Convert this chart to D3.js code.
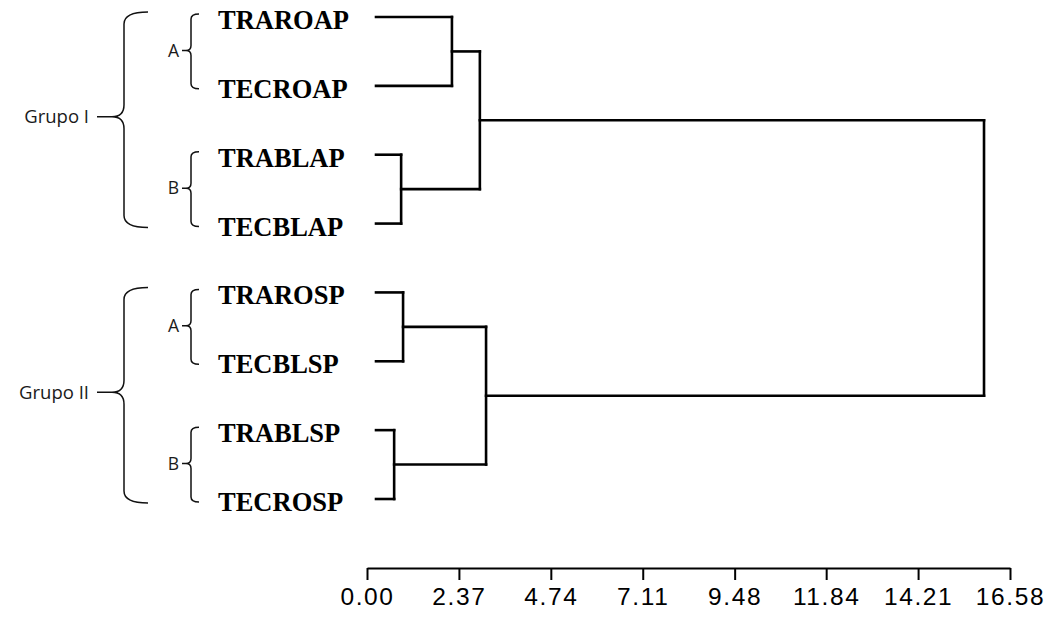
<!DOCTYPE html>
<html>
<head>
<meta charset="utf-8">
<script src="https://cdn.jsdelivr.net/npm/d3@7"></script>
<style>
  html, body { margin: 0; padding: 0; background: #fff; }
  svg { display: block; }
</style>
</head>
<body>
<svg id="chart" width="1056" height="618"></svg>
<script>
// ---- data ----
const leaves = ["TRAROAP", "TECROAP", "TRABLAP", "TECBLAP", "TRAROSP", "TECBLSP", "TRABLSP", "TECROSP"];
const clusterNames = ["G1A", "G1B", "G2A", "G2B", "G1", "G2", "root"];
const clusterChildren = [
  ["TRAROAP", "TECROAP"],
  ["TRABLAP", "TECBLAP"],
  ["TRAROSP", "TECBLSP"],
  ["TRABLSP", "TECROSP"],
  ["G1A", "G1B"],
  ["G2A", "G2B"],
  ["G1", "G2"]
];
const clusterHeights = [2.19, 0.88, 0.93, 0.70, 2.91, 3.07, 15.91];
const tickValues = [0, 2.37, 4.74, 7.11, 9.48, 11.84, 14.21, 16.58];
const tickLabels = ["0.00", "2.37", "4.74", "7.11", "9.48", "11.84", "14.21", "16.58"];
const groupLabels = ["Grupo I", "Grupo II"];
const groupLeaves = [["TRAROAP", "TECBLAP"], ["TRAROSP", "TECROSP"]];
const subLabels = ["A", "B", "A", "B"];
const subLeaves = [["TRAROAP", "TECROAP"], ["TRABLAP", "TECBLAP"], ["TRAROSP", "TECBLSP"], ["TRABLSP", "TECROSP"]];

// ---- build hierarchy ----
const childMap = {};
clusterNames.forEach((n, i) => childMap[n] = { kids: clusterChildren[i], h: clusterHeights[i] });
function build(name) {
  if (childMap[name]) return { name, height: childMap[name].h, children: childMap[name].kids.map(build) };
  return { name, height: 0 };
}
const root = d3.hierarchy(build("root"));

const svg = d3.select("#chart");
const x = d3.scaleLinear().domain([0, 16.58]).range([367, 1010]);
const y = d3.scalePoint().domain(leaves).range([17, 499]);
const leafStart = 376;

// positions
root.eachAfter(n => {
  if (!n.children) { n.py = y(n.data.name); n.px = leafStart; }
  else { n.py = d3.mean(n.children, c => c.py); n.px = x(n.data.height); }
});

const g = svg.append("g").attr("fill", "none").attr("stroke", "#000").attr("stroke-width", 2.6).attr("stroke-linecap", "square");
root.descendants().forEach(n => {
  if (n.parent) {
    g.append("line").attr("x1", n.px).attr("x2", n.parent.px).attr("y1", n.py).attr("y2", n.py);
  }
  if (n.children) {
    const ys = n.children.map(c => c.py);
    g.append("line").attr("x1", n.px).attr("x2", n.px).attr("y1", d3.min(ys)).attr("y2", d3.max(ys));
  }
});

// leaf labels
svg.append("g").selectAll("text").data(leaves).join("text")
  .attr("x", 218).attr("y", d => y(d) + 12)
  .attr("font-family", "'Liberation Serif', 'Times New Roman', serif")
  .attr("font-weight", "bold").attr("font-size", 26.5).attr("fill", "#000")
  .text(d => d);

// braces
function brace(xh, xv, xt, rt, y0, y1, r, ym) {
  return `M${xh},${y0} Q${xv},${y0} ${xv},${y0 + r} L${xv},${ym - r} Q${xv},${ym} ${xv - rt},${ym} L${xt},${ym} ` +
         `M${xv - rt},${ym} Q${xv},${ym} ${xv},${ym + r} L${xv},${y1 - r} Q${xv},${y1} ${xh},${y1}`;
}
const bg = svg.append("g").attr("fill", "none").attr("stroke", "#111").attr("stroke-width", 1.5);
const tg = svg.append("g").attr("font-family", "'Open Sans', 'DejaVu Sans', sans-serif").attr("fill", "#1a1a1a");

groupLeaves.forEach((pair, i) => {
  const y0 = y(pair[0]) - 5, y1 = y(pair[1]) + 4, ym = (y0 + y1) / 2 - 3;
  bg.append("path").attr("d", brace(148, 124, 97, 12, y0, y1, 12, ym));
  tg.append("text").attr("x", 89).attr("y", ym).attr("dy", "0.35em")
    .attr("text-anchor", "end").attr("font-size", 18.5).text(groupLabels[i]);
});
subLeaves.forEach((pair, i) => {
  const y0 = y(pair[0]) - 3, y1 = y(pair[1]) + 3, ym = (y0 + y1) / 2 - 1;
  bg.append("path").attr("d", brace(199, 191, 182, 5, y0, y1, 5, ym));
  tg.append("text").attr("x", 179).attr("y", ym).attr("dy", "0.35em")
    .attr("text-anchor", "end").attr("font-size", 17.5).text(subLabels[i]);
});

// axis
const axis = d3.axisBottom(x).tickValues(tickValues).tickFormat((d, i) => tickLabels[i])
  .tickSize(12).tickSizeOuter(0).tickPadding(8);
const ax = svg.append("g").attr("transform", "translate(0,568)").call(axis);
ax.select(".domain").attr("stroke", "#000").attr("stroke-width", 2);
ax.selectAll(".tick line").attr("stroke", "#000").attr("stroke-width", 2);
ax.selectAll(".tick text").attr("font-family", "'Liberation Sans', Arial, sans-serif")
  .attr("font-size", 24.5).attr("fill", "#000").attr("letter-spacing", "1.6px");
</script>
</body>
</html>
